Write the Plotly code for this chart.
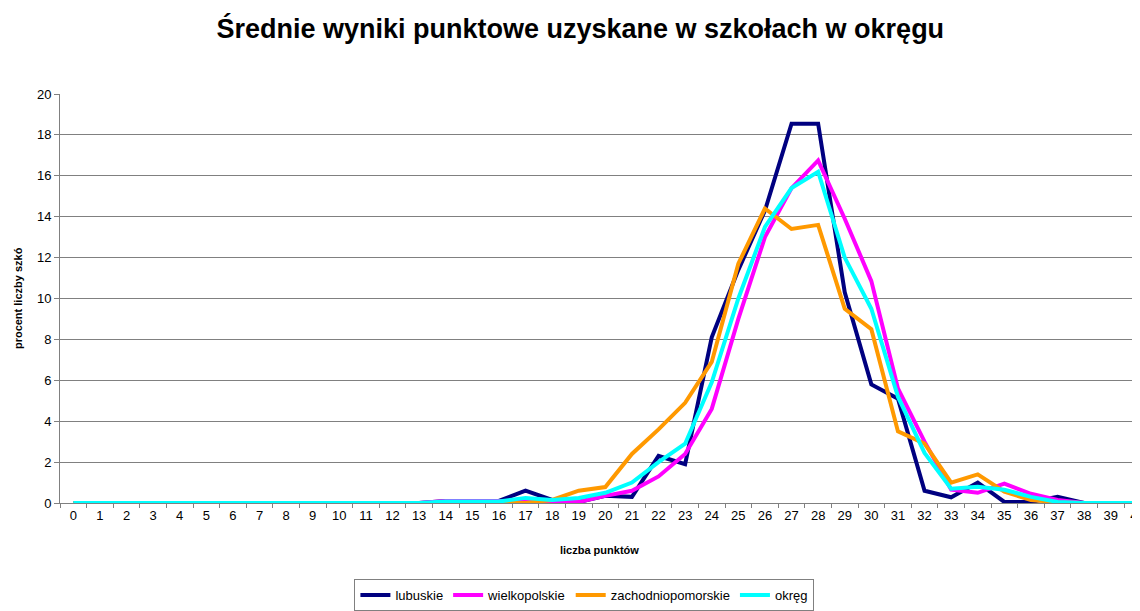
import plotly.graph_objects as go

# Data:
points = [str(i) for i in range(41)]

lubuskie = [0] * 14 + [0.1, 0.1, 0.1, 0.6, 0.15, 0.05, 0.35, 0.3, 2.3, 1.9, 8.1, 11.4, 14.3,
                       18.55, 18.55, 10.3, 5.8, 5.1, 0.6, 0.28, 1.0, 0.05, 0.05, 0.3, 0, 0, 0]
wielkopolskie = [0] * 14 + [0.1, 0.1, 0.1, 0.05, 0.05, 0.05, 0.35, 0.6, 1.3, 2.4, 4.6, 9.0, 13.0,
                            15.4, 16.75, 13.9, 10.85, 5.6, 3.0, 0.65, 0.5, 0.95, 0.45, 0.15, 0, 0, 0]
zachodniopomorskie = [0] * 18 + [0.15, 0.6, 0.78, 2.4, 3.6, 4.9, 6.9, 11.7, 14.4, 13.4, 13.6,
                                 9.5, 8.5, 3.5, 2.9, 1.0, 1.4, 0.55, 0.15, 0.03, 0, 0, 0]
okreg = [0] * 14 + [0.07, 0.07, 0.07, 0.25, 0.15, 0.25, 0.5, 1.0, 2.0, 2.9, 5.9, 10.0, 13.5,
                    15.4, 16.2, 12.0, 9.5, 5.2, 2.45, 0.7, 0.8, 0.65, 0.3, 0.05, 0, 0, 0]

series = [
    ("lubuskie", lubuskie, "#000080"),
    ("wielkopolskie", wielkopolskie, "#FF00FF"),
    ("zachodniopomorskie", zachodniopomorskie, "#FF9900"),
    ("okręg", okreg, "#00FFFF"),
]

# Plot:
fig = go.Figure()
for name, vals, col in series:
    fig.add_trace(
        go.Scatter(
            x = points,
            y = vals,
            mode = "lines",
            name = name,
            line = dict(color = col, width = 4),
        )
    )

# the page body has an 8px margin, so positions below are shifted by -8px
fig.update_layout(
    width = 1140,
    height = 611,
    font = dict(family = "Liberation Sans, Arial", size = 13, color = "black"),
    title = dict(
        text = "<b>Średnie wyniki punktowe uzyskane w szkołach w okręgu</b>",
        font = dict(size = 27),
        x = 0.502,
        xanchor = "center",
        y = 0.966,
        yanchor = "middle",
    ),
    plot_bgcolor = "white",
    paper_bgcolor = "white",
    margin = dict(l = 52, r = 0, t = 86, b = 116),
    showlegend = True,
    legend = dict(
        orientation = "h",
        x = 0.482,
        xanchor = "center",
        y = -0.186,
        yanchor = "top",
        bordercolor = "#808080",
        borderwidth = 1,
        font = dict(size = 13),
        tracegroupgap = 0,
        itemwidth = 30,
    ),
    annotations = [
        dict(text = "<b>liczba punktów</b>", xref = "paper", yref = "paper",
             x = 0.496, y = -0.115, xanchor = "center", yanchor = "middle",
             showarrow = False, font = dict(size = 11)),
        dict(text = "<b>procent liczby szkó</b>", xref = "paper", yref = "paper",
             x = -0.0386, y = 0.501, xanchor = "center", yanchor = "middle",
             textangle = -90, showarrow = False, font = dict(size = 11)),
    ],
)
fig.update_xaxes(
    type = "category",
    range = [-0.5, 40.4],
    automargin = False,
    showgrid = False,
    showline = True,
    linecolor = "#808080",
    linewidth = 1,
    ticks = "outside",
    tickson = "boundaries",
    ticklen = 4,
    tickcolor = "#808080",
    tickangle = 0,
    ticklabeloverflow = "allow",
)
fig.update_yaxes(
    range = [0, 20],
    dtick = 2,
    automargin = False,
    showgrid = True,
    gridcolor = "#808080",
    gridwidth = 1,
    showline = True,
    linecolor = "#808080",
    linewidth = 1,
    ticks = "outside",
    ticklen = 5,
    tickcolor = "#808080",
    zeroline = False,
)

fig.write_html("out.html")
